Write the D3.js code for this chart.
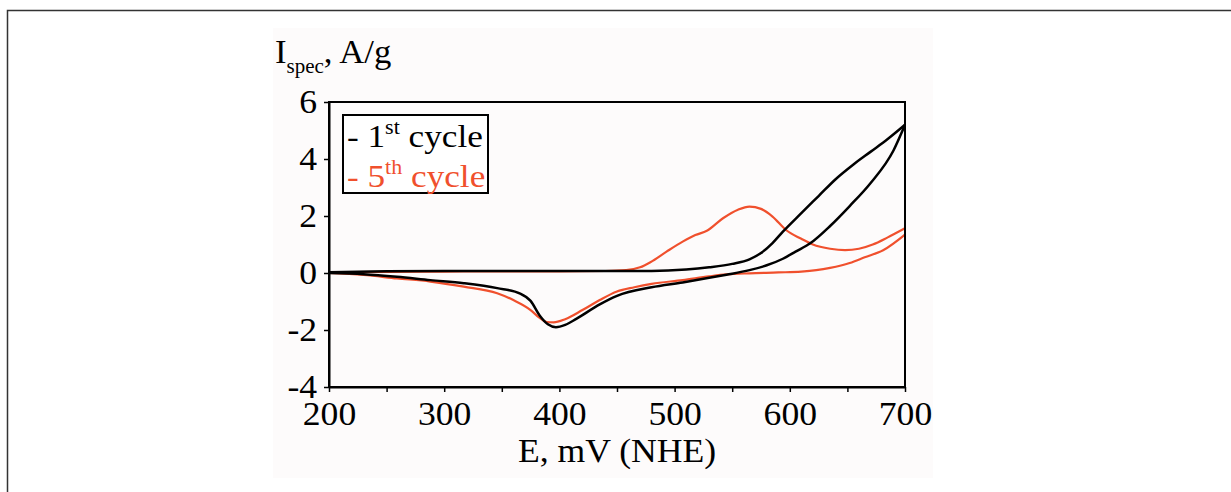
<!DOCTYPE html>
<html>
<head>
<meta charset="utf-8">
<script src="https://cdn.jsdelivr.net/npm/d3@7"></script>
<style>
  body { margin: 0; background: #fff; }
  text { font-family: "Liberation Serif", "Times New Roman", serif; }
</style>
</head>
<body>
<div id="chart"></div>
<script>
// potential (mV) and specific current (A/g)
var cycle1Fwd = [[200,0.03],[250,0.06],[300,0.07],[400,0.07],[480,0.07],[510,0.12],[530,0.2],[550,0.32],[565,0.48],[575,0.7],[585,1.05],[594,1.45],[610,2.1],[625,2.7],[640,3.3],[655,3.8],[670,4.25],[685,4.7],[700,5.2]];
var cycle1Rev = [[700,5.2],[690,4.3],[670,3.15],[652,2.35],[635,1.65],[618,1.05],[605,0.75],[594,0.5],[580,0.27],[565,0.1],[545,-0.06],[530,-0.17],[507,-0.33],[480,-0.5],[450,-0.8],[435,-1.1],[415,-1.6],[405,-1.82],[397,-1.9],[390,-1.8],[383,-1.5],[375,-0.98],[366,-0.72],[346,-0.53],[317,-0.36],[288,-0.25],[259,-0.13],[230,-0.04],[200,0]];
var cycle5Fwd = [[200,0.02],[250,0.04],[300,0.05],[350,0.06],[400,0.06],[440,0.07],[458,0.1],[470,0.2],[479,0.38],[493,0.75],[507,1.1],[518,1.33],[528,1.48],[542,1.92],[555,2.22],[565,2.33],[575,2.25],[585,1.98],[597,1.5],[610,1.2],[620,1.0],[635,0.85],[648,0.8],[660,0.85],[672,1.0],[685,1.25],[700,1.57]];
var cycle5Rev = [[700,1.35],[681,0.8],[665,0.55],[652,0.35],[635,0.18],[623,0.1],[610,0.05],[590,0.02],[565,-0.01],[545,-0.05],[530,-0.12],[507,-0.25],[480,-0.38],[465,-0.5],[450,-0.65],[435,-0.95],[420,-1.3],[405,-1.62],[395,-1.73],[389,-1.72],[382,-1.55],[375,-1.3],[360,-0.95],[346,-0.71],[317,-0.48],[288,-0.3],[259,-0.19],[230,-0.07],[200,0]];
var xTicks = [200,250,300,350,400,450,500,550,600,650,700];
var yTicks = [-4,-2,0,2,4,6];

var svg = d3.select("#chart").append("svg")
  .attr("width", 1231)
  .attr("height", 492);

// outer frame of the figure
svg.append("rect")
  .attr("x", 7.5).attr("y", 10.5)
  .attr("width", 1400).attr("height", 700)
  .attr("fill", "none")
  .attr("stroke", "#333")
  .attr("stroke-width", 1.5);

// faint panel behind the plot
svg.append("rect")
  .attr("x", 273).attr("y", 28)
  .attr("width", 660).attr("height", 450)
  .attr("fill", "#fdfbfb");

var x = d3.scaleLinear().domain([200, 700]).range([329, 905]);
var y = d3.scaleLinear().domain([-4, 6]).range([387, 102]);

var line = d3.line()
  .x(function (d) { return x(d[0]); })
  .y(function (d) { return y(d[1]); })
  .curve(d3.curveMonotoneX);

function asc(a) { return a.slice().sort(function (p, q) { return p[0] - q[0]; }); }

// curves: red below black
[cycle5Fwd, cycle5Rev].forEach(function (s) {
  svg.append("path").datum(asc(s))
    .attr("d", line)
    .attr("fill", "none")
    .attr("stroke", "#f0502d")
    .attr("stroke-width", 2.2);
});
[cycle1Fwd, cycle1Rev].forEach(function (s) {
  svg.append("path").datum(asc(s))
    .attr("d", line)
    .attr("fill", "none")
    .attr("stroke", "#000")
    .attr("stroke-width", 2.5);
});

// plot box
svg.append("rect")
  .attr("x", 329).attr("y", 102)
  .attr("width", 905 - 329).attr("height", 387 - 102)
  .attr("fill", "none")
  .attr("stroke", "#000")
  .attr("stroke-width", 2);

// axes
var xAxis = svg.append("g")
  .attr("transform", "translate(0,387)")
  .call(d3.axisBottom(x)
    .tickValues(xTicks)
    .tickSize(5)
    .tickSizeOuter(0)
    .tickPadding(10)
    .tickFormat(function (d) { return d % 100 === 0 ? d : ""; }));

var yAxis = svg.append("g")
  .attr("transform", "translate(329,0)")
  .call(d3.axisLeft(y)
    .tickValues(yTicks)
    .tickSize(5)
    .tickSizeOuter(0)
    .tickPadding(6)
    .tickFormat(function (d) { return String(d); }));

[xAxis, yAxis].forEach(function (g) {
  g.attr("font-family", "Liberation Serif").attr("font-size", 33);
  g.select(".domain").attr("stroke", "#000").attr("stroke-width", 2);
  g.selectAll(".tick line").attr("stroke", "#000").attr("stroke-width", 1.5);
  // the source figure is a little stretched sideways
  g.selectAll(".tick text").attr("fill", "#000").attr("transform", "scale(1.08,1)");
});

// axis titles
svg.append("text")
  .attr("transform", "translate(617,462) scale(1.08,1)")
  .attr("text-anchor", "middle")
  .style("font-size", "33px")
  .text("E, mV (NHE)");

var yTitle = svg.append("text")
  .attr("transform", "translate(275,63) scale(1.05,1)")
  .style("font-size", "33px");
yTitle.append("tspan").text("I");
yTitle.append("tspan").attr("dy", 10).style("font-size", "20px").text("spec");
yTitle.append("tspan").attr("dy", -10).text(", A/g");

// legend
svg.append("rect")
  .attr("x", 343).attr("y", 115)
  .attr("width", 145).attr("height", 78)
  .attr("fill", "#fff")
  .attr("stroke", "#000")
  .attr("stroke-width", 2);

var legendRows = [
  { n: "1", sup: "st", color: "#000", yy: 147 },
  { n: "5", sup: "th", color: "#f0502d", yy: 187 }
];
legendRows.forEach(function (r) {
  var t = svg.append("text")
    .attr("transform", "translate(347," + r.yy + ") scale(1.1,1)")
    .attr("fill", r.color)
    .style("font-size", "32px");
  t.append("tspan").text("- " + r.n);
  t.append("tspan").attr("dy", -13).style("font-size", "20px").text(r.sup);
  t.append("tspan").attr("dy", 13).text(" cycle");
});
</script>
</body>
</html>
